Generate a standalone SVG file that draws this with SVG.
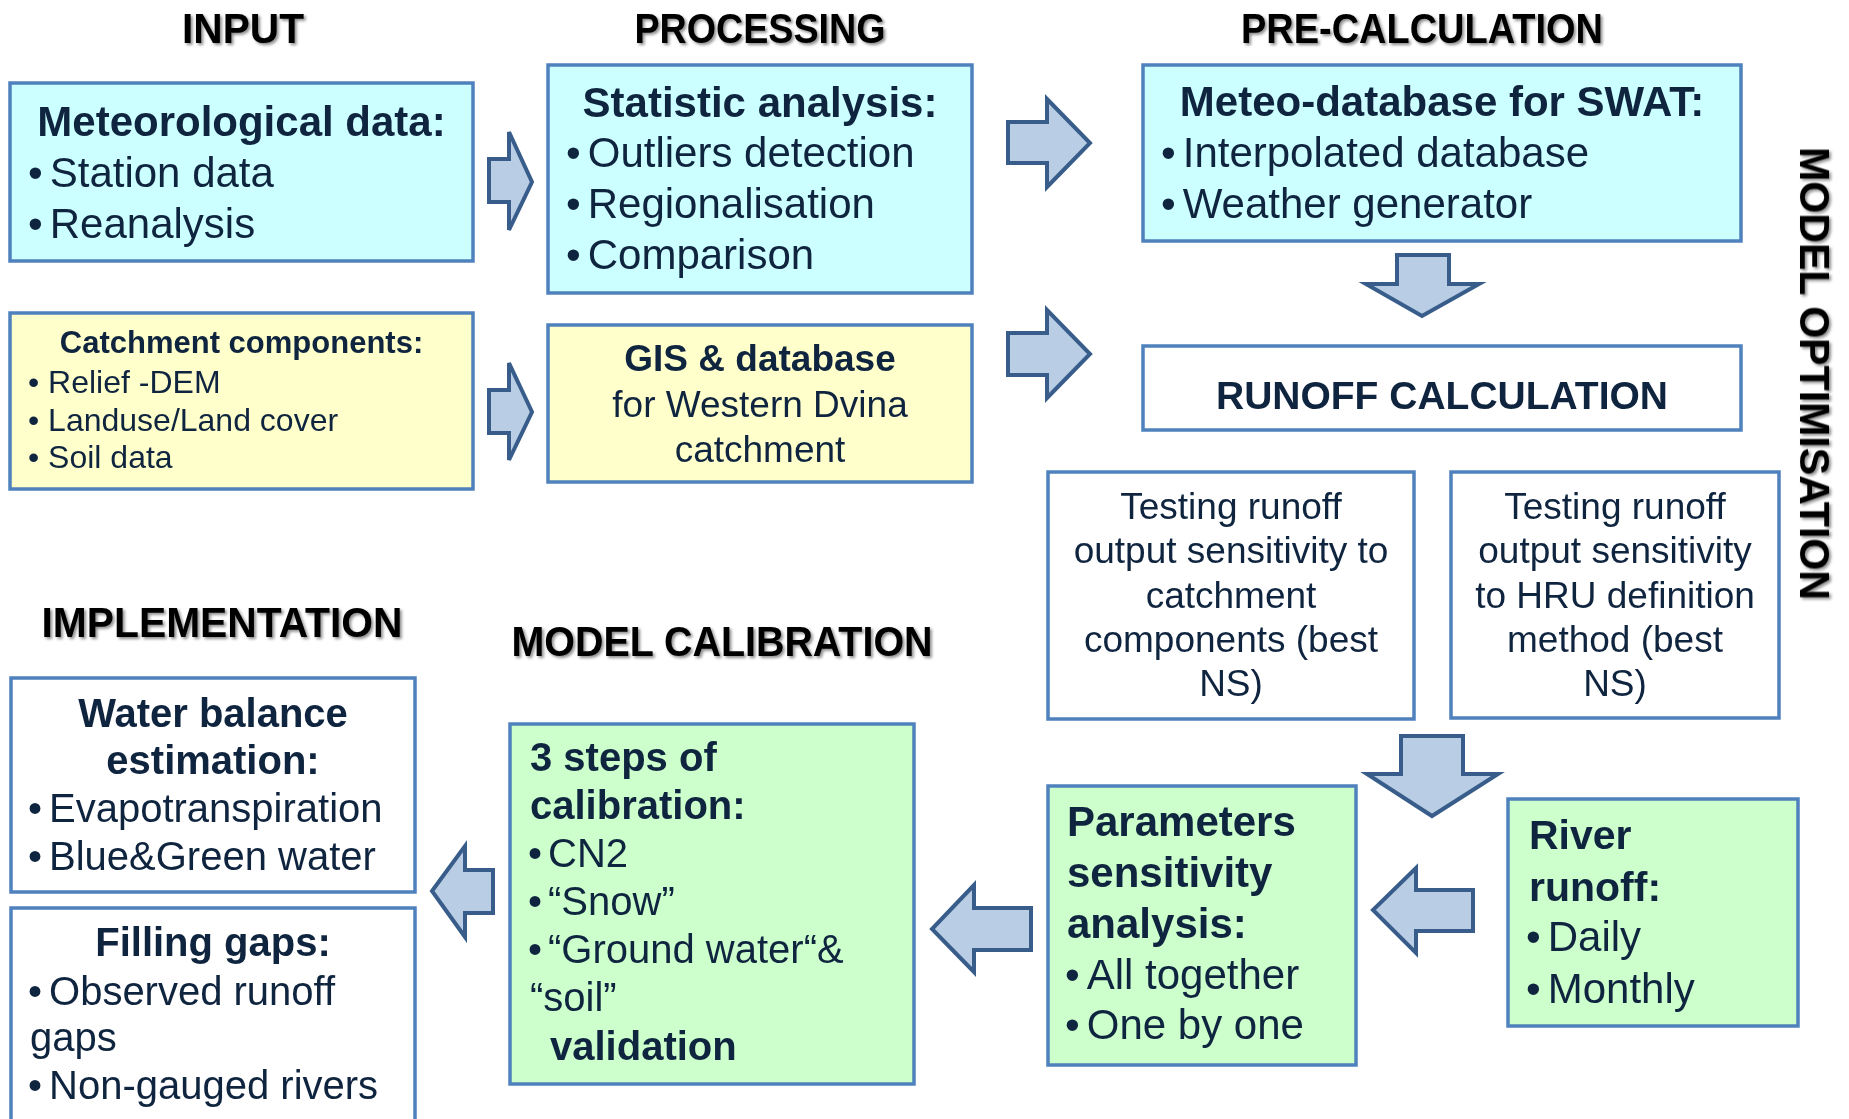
<svg xmlns="http://www.w3.org/2000/svg" width="1849" height="1119" viewBox="0 0 1849 1119">
<defs>
<style>
.box{stroke:#4f81bd;stroke-width:3.5}
.cyan{fill:#ccffff}.yellow{fill:#ffffcc}.green{fill:#ccffcc}.white{fill:#ffffff}
.t{font-family:"Liberation Sans",Arial,sans-serif;fill:#0f243e;font-size:42px}
.b{font-weight:bold}
.m{text-anchor:middle}
.s40{font-size:40px}
.s32{font-size:32px}
.s31{font-size:31px}
.s37{font-size:37px}
.hdr{font-family:"Liberation Sans",Arial,sans-serif;font-weight:bold;font-size:42px;fill:#000;text-anchor:middle}
.arrow{fill:#b9cde5;stroke:#385d8a;stroke-width:4;stroke-linejoin:miter}
</style>
<filter id="sh" x="-10%" y="-30%" width="120%" height="160%">
<feDropShadow dx="2" dy="2" stdDeviation="1.5" flood-color="#000" flood-opacity="0.45"/>
</filter>
</defs>
<rect width="1849" height="1119" fill="#ffffff"/>

<g id="headers" filter="url(#sh)">
<text class="hdr" x="243" y="43" textLength="122" lengthAdjust="spacingAndGlyphs">INPUT</text>
<text class="hdr" x="760" y="43" textLength="251" lengthAdjust="spacingAndGlyphs">PROCESSING</text>
<text class="hdr" x="1422" y="43" textLength="362" lengthAdjust="spacingAndGlyphs">PRE-CALCULATION</text>
<text class="hdr" x="222" y="637" textLength="361" lengthAdjust="spacingAndGlyphs">IMPLEMENTATION</text>
<text class="hdr" x="722" y="656" textLength="421" lengthAdjust="spacingAndGlyphs">MODEL CALIBRATION</text>
<text class="hdr" transform="translate(1800 373.5) rotate(90)" x="0" y="0" textLength="453" lengthAdjust="spacingAndGlyphs">MODEL OPTIMISATION</text>
</g>

<g id="connectors">
<polygon class="arrow" points="489,159 509,159 509,132 532,182 509,230 509,202 489,202"/>
<polygon class="arrow" points="489,390 509,390 509,363 532,412 509,460 509,433 489,433"/>
<polygon class="arrow" points="1008,122 1047,122 1047,99 1090,143 1047,187 1047,163 1008,163"/>
<polygon class="arrow" points="1008,333 1047,333 1047,310 1090,354 1047,398 1047,375 1008,375"/>
<polygon class="arrow" points="1397,255 1449,255 1449,284 1479,284 1422,316 1366,284 1397,284"/>
<polygon class="arrow" points="1401,736 1463,736 1463,774 1498,774 1432,816 1367,774 1401,774"/>
<polygon class="arrow" points="1473,890 1416,890 1416,868 1373,910 1416,953 1416,931 1473,931"/>
<polygon class="arrow" points="1031,908 974,908 974,885 932,929 974,972 974,950 1031,950"/>
<polygon class="arrow" points="493,870 465,870 465,846 432,891 465,937 465,913 493,913"/>
</g>

<g id="meteorological-data">
<rect class="box cyan" x="10" y="83" width="463" height="178"/>
<text class="t b m" x="241.5" y="136">Meteorological data:</text>
<text class="t" x="28" y="187">•<tspan dx="7">Station data</tspan></text>
<text class="t" x="28" y="238">•<tspan dx="7">Reanalysis</tspan></text>
</g>

<g id="catchment-components">
<rect class="box yellow" x="10" y="313" width="463" height="176"/>
<text class="t b m s31" x="241.5" y="353">Catchment components:</text>
<text class="t s32" x="28" y="393">• Relief -DEM</text>
<text class="t s32" x="28" y="431">• Landuse/Land cover</text>
<text class="t s32" x="28" y="468">• Soil data</text>
</g>

<g id="statistic-analysis">
<rect class="box cyan" x="548" y="65" width="424" height="228"/>
<text class="t b m" x="760" y="117">Statistic analysis:</text>
<text class="t" x="566" y="167">•<tspan dx="7">Outliers detection</tspan></text>
<text class="t" x="566" y="218">•<tspan dx="7">Regionalisation</tspan></text>
<text class="t" x="566" y="269">•<tspan dx="7">Comparison</tspan></text>
</g>

<g id="gis-database">
<rect class="box yellow" x="548" y="325" width="424" height="157"/>
<text class="t b m s37" x="760" y="371">GIS &amp; database</text>
<text class="t m s37" x="760" y="417">for Western Dvina</text>
<text class="t m s37" x="760" y="462">catchment</text>
</g>

<g id="meteo-database">
<rect class="box cyan" x="1143" y="65" width="598" height="176"/>
<text class="t b m" x="1442" y="116">Meteo-database for SWAT:</text>
<text class="t" x="1161" y="167">•<tspan dx="7">Interpolated database</tspan></text>
<text class="t" x="1161" y="218">•<tspan dx="7">Weather generator</tspan></text>
</g>

<g id="runoff-calculation">
<rect class="box white" x="1143" y="346" width="598" height="84"/>
<text class="t b m" style="font-size:39px" x="1442" y="409">RUNOFF CALCULATION</text>
</g>

<g id="testing-catchment">
<rect class="box white" x="1048" y="472" width="366" height="247"/>
<text class="t m s37" x="1231" y="519">Testing runoff</text>
<text class="t m s37" x="1231" y="563">output sensitivity to</text>
<text class="t m s37" x="1231" y="608">catchment</text>
<text class="t m s37" x="1231" y="652">components (best</text>
<text class="t m s37" x="1231" y="696">NS)</text>
</g>

<g id="testing-hru">
<rect class="box white" x="1451" y="472" width="328" height="246"/>
<text class="t m s37" x="1615" y="519">Testing runoff</text>
<text class="t m s37" x="1615" y="563">output sensitivity</text>
<text class="t m s37" x="1615" y="608">to HRU definition</text>
<text class="t m s37" x="1615" y="652">method (best</text>
<text class="t m s37" x="1615" y="696">NS)</text>
</g>

<g id="river-runoff">
<rect class="box green" x="1508" y="799" width="290" height="227"/>
<text class="t b" style="font-size:41px" x="1529" y="849">River</text>
<text class="t b" style="font-size:41px" x="1529" y="901">runoff:</text>
<text class="t" x="1526" y="951">•<tspan dx="7">Daily</tspan></text>
<text class="t" x="1526" y="1003">•<tspan dx="7">Monthly</tspan></text>
</g>

<g id="parameters-sensitivity">
<rect class="box green" x="1048" y="786" width="308" height="279"/>
<text class="t b" x="1067" y="836">Parameters</text>
<text class="t b" x="1067" y="887">sensitivity</text>
<text class="t b" x="1067" y="938">analysis:</text>
<text class="t" x="1065" y="989">•<tspan dx="7">All together</tspan></text>
<text class="t" x="1065" y="1039">•<tspan dx="7">One by one</tspan></text>
</g>

<g id="calibration-steps">
<rect class="box green" x="510" y="724" width="404" height="360"/>
<text class="t b s40" x="530" y="771">3 steps of</text>
<text class="t b s40" x="530" y="819">calibration:</text>
<text class="t s40" x="528" y="867">•<tspan dx="6">CN2</tspan></text>
<text class="t s40" x="528" y="915">•<tspan dx="6">“Snow”</tspan></text>
<text class="t s40" x="528" y="963">•<tspan dx="6">“Ground water“&amp;</tspan></text>
<text class="t s40" x="530" y="1011">“soil”</text>
<text class="t b s40" x="550" y="1060">validation</text>
</g>

<g id="water-balance">
<rect class="box white" x="11" y="678" width="404" height="214"/>
<text class="t b m s40" x="213" y="727">Water balance</text>
<text class="t b m s40" x="213" y="774">estimation:</text>
<text class="t s40" x="28" y="822">•<tspan dx="7">Evapotranspiration</tspan></text>
<text class="t s40" x="28" y="870">•<tspan dx="7">Blue&amp;Green water</tspan></text>
</g>

<g id="filling-gaps">
<rect class="box white" x="11" y="908" width="404" height="230"/>
<text class="t b m s40" x="213" y="956">Filling gaps:</text>
<text class="t s40" x="28" y="1005">•<tspan dx="7">Observed runoff</tspan></text>
<text class="t s40" x="30" y="1051">gaps</text>
<text class="t s40" x="28" y="1099">•<tspan dx="7">Non-gauged rivers</tspan></text>
</g>
</svg>
